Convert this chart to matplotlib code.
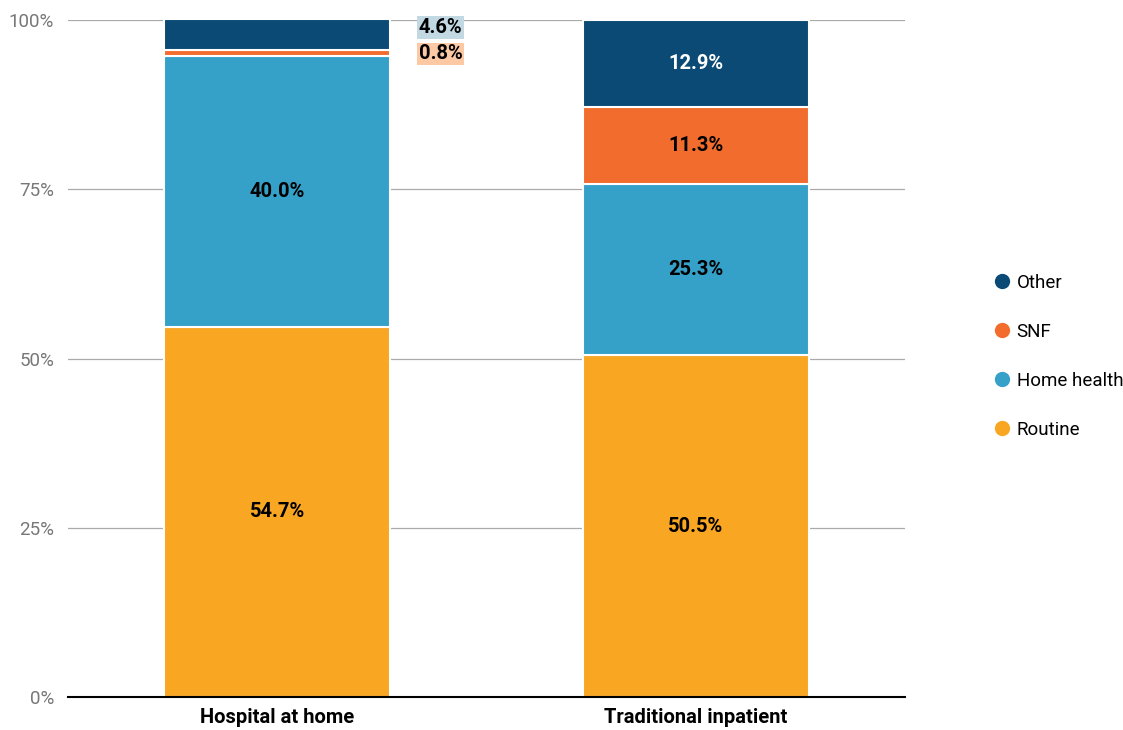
import numpy as np
import matplotlib.pyplot as plt
from matplotlib.lines import Line2D

plt.rcParams["font.family"] = ["Roboto", "DejaVu Sans"]

categories = ["Hospital at home", "Traditional inpatient"]
series = ["Routine", "Home health", "SNF", "Other"]
routine = [54.7, 50.5]
home_health = [40.0, 25.3]
snf = [0.8, 11.3]
other = [4.6, 12.9]

colors = {
    "Routine": "#f9a623",
    "Home health": "#35a0c8",
    "SNF": "#f26c2d",
    "Other": "#0a4a74",
}
label_colors = {
    "Routine": "black",
    "Home health": "black",
    "SNF": "black",
    "Other": "white",
}

fig = plt.figure(figsize=(11.23, 7.3), dpi=100)
ax = fig.add_axes([0.0606, 0.0452, 0.7455, 0.9274])

x = np.arange(len(categories))
width = 0.54
bottom = np.zeros(len(categories))
values = {"Routine": routine, "Home health": home_health, "SNF": snf, "Other": other}

for name in series:
    vals = np.array(values[name])
    ax.bar(x, vals, width, bottom=bottom, color=colors[name], edgecolor="white",
           linewidth=1.5, zorder=3, clip_on=False)
    for i, v in enumerate(vals):
        if v >= 3 and not (i == 0 and name == "Other"):
            ax.text(x[i], bottom[i] + v / 2, f"{v:.1f}%", ha="center", va="center",
                    fontsize=14.5, fontweight="bold", color=label_colors[name], zorder=4)
    bottom += vals

# small segments of the first bar get callout labels beside it
ax.text(0.39, 98.9, f"{other[0]:.1f}%", ha="center", va="center", fontsize=14.5,
        fontweight="bold", color="black", zorder=4,
        bbox=dict(facecolor="#c2d9e4", edgecolor="none", pad=1.3))
ax.text(0.39, 95.0, f"{snf[0]:.1f}%", ha="center", va="center", fontsize=14.5,
        fontweight="bold", color="black", zorder=4,
        bbox=dict(facecolor="#fcc9a4", edgecolor="none", pad=1.3))

ax.set_xlim(-0.5, 1.5)
ax.set_ylim(0, 100)
ax.set_yticks([0, 25, 50, 75, 100])
ax.set_yticklabels(["0%", "25%", "50%", "75%", "100%"])
ax.set_xticks(x)
ax.set_xticklabels(categories, fontsize=14.5, fontweight="bold")
ax.tick_params(axis="y", length=0, labelsize=13.5, labelcolor="#777777", pad=10)
ax.tick_params(axis="x", length=0, pad=8)
ax.yaxis.grid(True, color="#aaaaaa", linewidth=0.9, zorder=0)
for s in ["top", "right", "left"]:
    ax.spines[s].set_visible(False)
ax.spines["bottom"].set_color("black")
ax.spines["bottom"].set_linewidth(1.5)
ax.spines["bottom"].set_zorder(5)

handles = [Line2D([], [], marker="o", linestyle="none", markersize=11,
                  markerfacecolor=colors[n], markeredgecolor="none") for n in series[::-1]]
fig.legend(handles, series[::-1], loc="center left", bbox_to_anchor=(0.876, 0.512),
           frameon=False, fontsize=13.5, labelspacing=1.65, handletextpad=0.25,
           handlelength=1.0, borderpad=0)

fig.savefig("out.png", dpi=100)
